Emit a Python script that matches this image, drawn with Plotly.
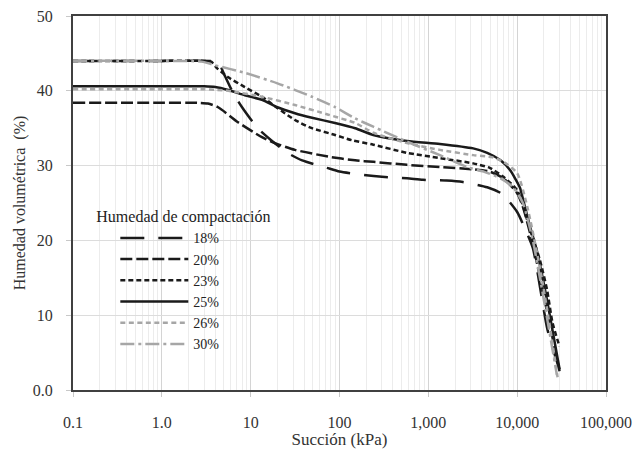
import plotly.graph_objects as go

# Data (succión kPa, humedad volumétrica %)
x18 = [0.1, 1, 3.5, 4.3, 4.9, 6.3, 8, 12, 17, 26, 38, 72, 100, 200, 300, 575, 870, 1600, 2450, 4600, 6800, 10000, 12000, 15000, 22000, 30000]
y18 = [44.0, 44.0, 44.0, 43.9, 42.5, 39.8, 37.8, 35.0, 33.4, 31.7, 30.7, 29.7, 29.2, 28.7, 28.5, 28.3, 28.1, 28.0, 27.8, 27.1, 26.2, 23.8, 21.8, 19.0, 8.0, 2.7]

x20 = [0.1, 1, 2.5, 3.3, 4.3, 7.2, 13.4, 18.8, 31.5, 75, 150, 240, 575, 1350, 3200, 4900, 7000, 10000, 11600, 15000, 20000, 25000, 30000]
y20 = [38.4, 38.4, 38.4, 38.3, 37.8, 35.8, 33.8, 33.0, 32.1, 31.2, 30.7, 30.5, 30.1, 29.8, 29.5, 29.2, 28.3, 26.3, 24.5, 19.5, 12.5, 7.0, 2.5]

x23 = [0.1, 1, 3.0, 3.6, 4.2, 5.6, 8.6, 13.4, 20, 31.5, 49, 89, 137, 240, 575, 1350, 3200, 4900, 7000, 10000, 14000, 18000, 21700, 25000, 30000]
y23 = [44.0, 44.0, 44.0, 43.9, 43.0, 41.8, 40.5, 39.2, 37.7, 36.1, 35.0, 34.1, 33.4, 32.8, 31.7, 31.0, 30.3, 29.7, 28.5, 26.7, 21.4, 17.4, 13.4, 9.0, 5.8]

x25 = [0.1, 1, 3.0, 4, 5.6, 8.6, 13.4, 20, 31.5, 49, 89, 150, 240, 575, 1350, 3200, 4600, 6500, 8300, 10700, 11700, 14000, 16600, 21700, 30000]
y25 = [40.6, 40.6, 40.6, 40.5, 40.1, 39.4, 38.8, 37.8, 37.0, 36.4, 35.7, 35.0, 34.1, 33.3, 32.9, 32.3, 31.7, 30.7, 29.4, 27.1, 25.4, 21.8, 18.7, 12.0, 2.8]

x26 = [0.1, 1, 3.0, 4.2, 5.6, 13.4, 31.5, 75, 150, 240, 575, 1350, 3200, 5300, 7000, 10000, 13000, 18000, 23000, 28500]
y26 = [40.2, 40.2, 40.2, 40.1, 40.0, 39.2, 38.1, 36.8, 35.7, 34.4, 33.0, 32.1, 31.4, 31.1, 30.5, 29.0, 24.5, 16.4, 9.0, 1.7]

x30 = [0.1, 1, 2.8, 4, 8.6, 20, 49, 90, 150, 240, 575, 1350, 2750, 4200, 6500, 9000, 11600, 15000, 20000, 28000]
y30 = [44.0, 44.0, 43.9, 43.4, 42.4, 41.0, 39.2, 37.8, 36.3, 35.2, 33.2, 31.4, 29.8, 29.2, 28.3, 27.1, 25.0, 20.0, 12.0, 2.0]

names = ["18%", "20%", "23%", "25%", "26%", "30%"]
x_tick_vals = [0.1, 1, 10, 100, 1000, 10000, 100000]
x_tick_text = ["0.1", "1.0", "10", "100", "1,000", "10,000", "100,000"]
y_tick_vals = [0, 10, 20, 30, 40, 50]
y_tick_text = ["0.0", "10", "20", "30", "40", "50"]

series = [
    (x18, y18, "#1a1a1a", "24px,14px"),
    (x20, y20, "#1a1a1a", "12px,4px"),
    (x23, y23, "#1a1a1a", "5px,3px"),
    (x25, y25, "#1a1a1a", "solid"),
    (x26, y26, "#a6a6a6", "5px,3.5px"),
    (x30, y30, "#a6a6a6", "14px,4px,3px,4px"),
]

FONT = "Liberation Serif"

fig = go.Figure()
for (xs, ys, col, dash), nm in zip(series, names):
    fig.add_trace(go.Scatter(
        x=xs, y=ys, mode="lines", name=nm,
        line=dict(color=col, width=2.5, dash=dash, shape="spline", smoothing=0.6),
    ))

fig.update_layout(
    width=644, height=449,
    margin=dict(l=73, r=38, t=16, b=59),
    paper_bgcolor="white", plot_bgcolor="white",
    font=dict(family=FONT, size=16, color="#333333"),
    showlegend=True,
    legend=dict(
        title=dict(text="Humedad de compactación", font=dict(family=FONT, size=16, color="#222222")),
        x=0.04, y=0.504, xanchor="left", yanchor="top",
        bgcolor="rgba(0,0,0,0)",
        font=dict(family=FONT, size=14, color="#222222"),
        itemwidth=68, indentation=21,
        tracegroupgap=0,
    ),
    xaxis=dict(
        type="log", range=[-1, 5],
        tickvals=x_tick_vals, ticktext=x_tick_text,
        showgrid=True, gridcolor="#d4d4d4", gridwidth=1,
        minor=dict(dtick="D1", showgrid=True, gridcolor="#ececec", gridwidth=1),
        ticks="outside", ticklen=5, tickcolor="#c8c8c8",
        ticklabelstandoff=12,
        showline=True, linecolor="#404040", linewidth=2, mirror=True,
        zeroline=False, automargin=False,
        title=dict(text="Succión (kPa)", font=dict(family=FONT, size=17, color="#333333"), standoff=18),
        tickfont=dict(family=FONT, size=16, color="#333333"),
    ),
    yaxis=dict(
        range=[0, 50],
        tickvals=y_tick_vals, ticktext=y_tick_text,
        showgrid=True, gridcolor="#dcdcdc", gridwidth=1,
        ticks="outside", ticklen=5, tickcolor="#c8c8c8",
        ticklabelstandoff=10,
        showline=True, linecolor="#404040", linewidth=2, mirror=True,
        zeroline=False, automargin=False,
        title=dict(text="\u00a0" * 17 + "Humedad volumétrica\u00a0\u00a0(%)", font=dict(family=FONT, size=16, color="#333333"), standoff=3),
        tickfont=dict(family=FONT, size=16, color="#333333"),
    ),
)

fig.write_html("out.html")
